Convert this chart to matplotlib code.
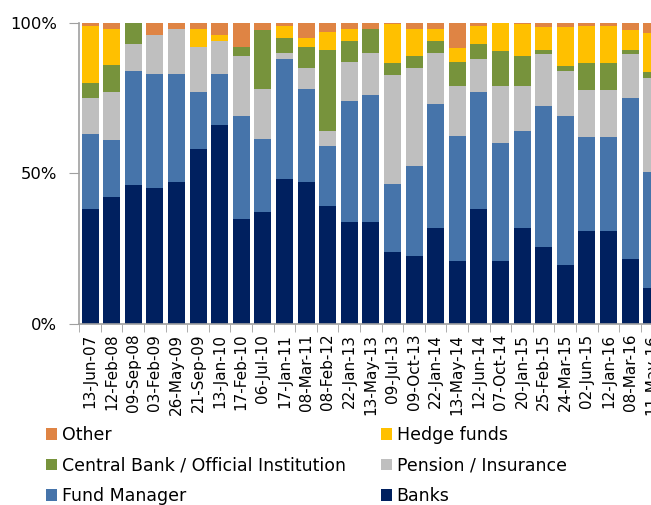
import matplotlib
matplotlib.use("Agg")
import matplotlib.pyplot as plt
import numpy as np
from matplotlib.patches import Patch


# Datas das pesquisas (eixo x).
datas = [
    "13-Jun-07", "12-Feb-08", "09-Sep-08", "03-Feb-09", "26-May-09",
    "21-Sep-09", "13-Jan-10", "17-Feb-10", "06-Jul-10", "17-Jan-11",
    "08-Mar-11", "08-Feb-12", "22-Jan-13", "13-May-13", "09-Jul-13",
    "09-Oct-13", "22-Jan-14", "13-May-14", "12-Jun-14", "07-Oct-14",
    "20-Jan-15", "25-Feb-15", "24-Mar-15", "02-Jun-15", "12-Jan-16",
    "08-Mar-16", "11-May-16",
]

# Participacao (%) de cada tipo de investidor, de baixo para cima.
banks = [38, 42, 46, 45, 47, 58, 66, 35, 37, 48, 47, 39, 34, 34, 24, 22.5,
         32, 21, 38, 21, 32, 25.5, 19.5, 31, 31, 21.5, 12]
fund_manager = [25, 19, 38, 38, 36, 19, 17, 34, 24.5, 40, 31, 20, 40, 42,
                22.5, 30, 41, 41.5, 39, 39, 32, 47, 49.5, 31, 31, 53.5, 38.5]
pension = [12, 16, 9, 13, 15, 15, 11, 20, 16.5, 2, 7, 5, 13, 14, 36, 32.5,
           17, 16.5, 11, 19, 15, 17, 15, 15.5, 15.5, 14.5, 31]
central_bank = [5, 9, 7, 0, 0, 0, 0, 3, 19.5, 5, 7, 27, 7, 8, 4, 4, 4, 8,
                5, 11.5, 10, 1.5, 1.5, 9, 9, 1.5, 2]
hedge_funds = [19, 12, 0, 0, 0, 6, 2, 0, 0, 4, 3, 6, 4, 0, 13, 9, 4, 4.5,
               6, 9.5, 10.5, 7.5, 13, 12.5, 12.5, 6.5, 13]
other = [1, 2, 0, 4, 2, 2, 4, 8, 2.5, 1, 5, 3, 2, 2, 0.5, 2, 2, 8.5, 1, 0,
         0.5, 1.5, 1.5, 1, 1, 2.5, 3.5]

series = [
    ("Banks", banks, "#00205F"),
    ("Fund Manager", fund_manager, "#4674AA"),
    ("Pension / Insurance", pension, "#BFBFBF"),
    ("Central Bank / Official Institution", central_bank, "#77933C"),
    ("Hedge funds", hedge_funds, "#FFC000"),
    ("Other", other, "#DF8444"),
]


def main() -> None:
    plt.rcParams["font.family"] = "DejaVu Sans"

    fig = plt.figure(figsize=(6.51, 5.05), dpi=100)
    ax = fig.add_axes([0.1218, 0.3584, 0.8958, 0.5968])

    x = np.arange(len(datas))
    base = np.zeros(len(datas))
    for nome, valores, cor in series:
        valores = np.array(valores, dtype=float)
        ax.bar(x, valores, bottom=base, width=0.79, color=cor,
               linewidth=0, label=nome)
        base += valores

    ax.set_xlim(-0.5, len(datas) - 0.5)
    ax.set_ylim(0, 100)

    ax.set_yticks([0, 50, 100])
    ax.set_yticklabels(["0%", "50%", "100%"], fontsize=11.8)
    ax.tick_params(axis="y", direction="out", length=7, color="#A0A0A0",
                   pad=9)

    ax.set_xticks(x)
    ax.set_xticklabels(datas, rotation=90, fontsize=11)
    ax.set_xticks(np.arange(len(datas) + 1) - 0.5, minor=True)
    ax.tick_params(axis="x", which="major", length=0, pad=7)
    ax.tick_params(axis="x", which="minor", direction="out", length=6,
                   color="#A0A0A0")

    for lado in ["top", "right"]:
        ax.spines[lado].set_visible(False)
    for lado in ["left", "bottom"]:
        ax.spines[lado].set_color("#A0A0A0")
        ax.spines[lado].set_linewidth(1.2)

    cores = {nome: cor for nome, _, cor in series}
    col_esq = ["Other", "Central Bank / Official Institution", "Fund Manager"]
    col_dir = ["Hedge funds", "Pension / Insurance", "Banks"]

    for nomes, x0 in [(col_esq, 46 / 651), (col_dir, 381 / 651)]:
        handles = [Patch(facecolor=cores[n], linewidth=0) for n in nomes]
        fig.legend(handles, nomes, loc="upper left",
                   bbox_to_anchor=(x0, (505 - 426) / 505),
                   frameon=False, fontsize=12.5, borderpad=0,
                   borderaxespad=0, handlelength=0.62, handleheight=0.62,
                   handletextpad=0.28, labelspacing=0.72)

    fig.savefig("out.png", dpi=100)
    plt.close(fig)


if __name__ == "__main__":
    main()
